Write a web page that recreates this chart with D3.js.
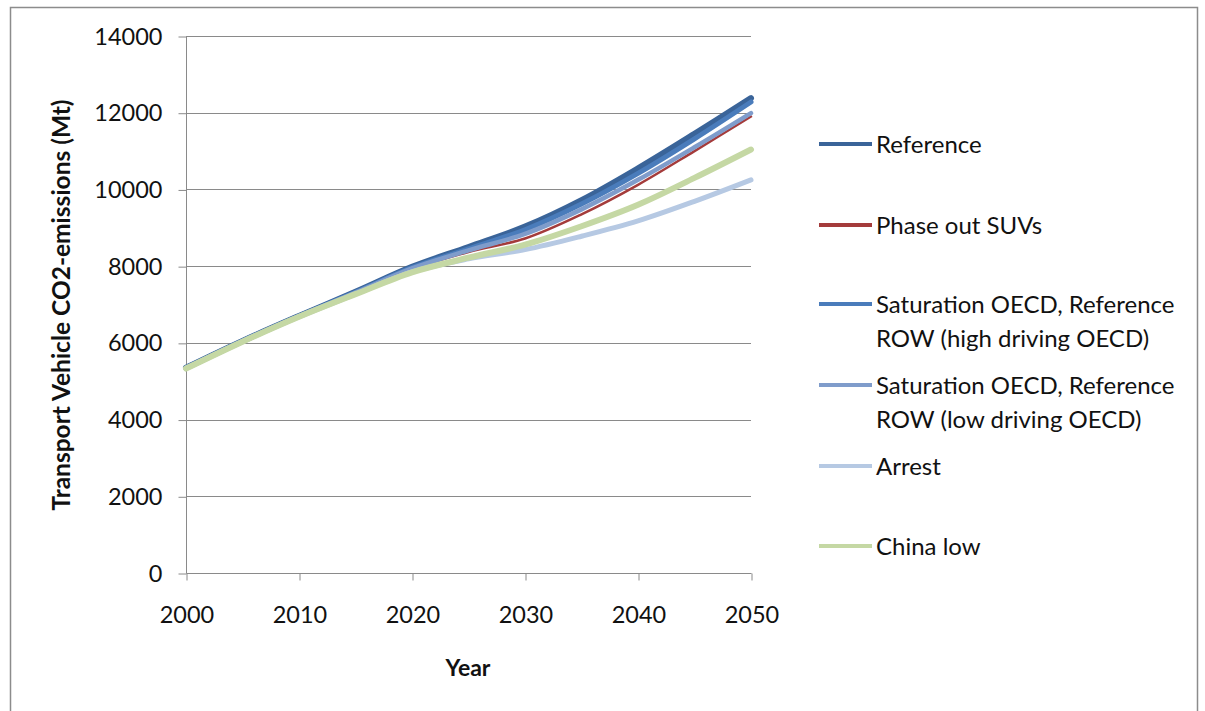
<!DOCTYPE html>
<html><head><meta charset="utf-8">
<script src="https://cdn.jsdelivr.net/npm/d3@7"></script>
<style>
body{margin:0;background:#fff;}
svg{display:block;font-family:Lato,"Open Sans",sans-serif;}
</style></head>
<body><svg id="c" width="1205" height="711"></svg>
<script>
const years = [2000,2005,2010,2015,2020,2025,2030,2035,2040,2045,2050];
const seriesNames = ["Reference","Phase out SUVs","Saturation OECD, Reference ROW (high driving OECD)","Saturation OECD, Reference ROW (low driving OECD)","Arrest","China low"];
const reference   = [5350,6050,6700,7330,7980,8500,9030,9720,10550,11450,12380];
const phaseOutSUV = [5350,6050,6700,7300,7920,8370,8720,9350,10120,11000,11900];
const satHigh     = [5350,6050,6700,7320,7960,8450,8950,9620,10420,11320,12280];
const satLow      = [5350,6050,6700,7310,7940,8410,8840,9480,10250,11100,11990];
const arrest      = [5330,6030,6680,7270,7850,8190,8430,8780,9180,9690,10250];
const chinaLow    = [5330,6030,6680,7270,7840,8220,8560,9040,9600,10300,11040];
const yTicks = [0,2000,4000,6000,8000,10000,12000,14000];
const xTicks = [2000,2010,2020,2030,2040,2050];

const svg = d3.select("#c");
svg.append("path").attr("d","M10.5,711 V7.5 H1197.5 V711").attr("fill","none").attr("stroke","#8c8c8c").attr("stroke-width",1.5);

const x = d3.scaleLinear().domain([2000,2050]).range([186,751]);
const y = d3.scaleLinear().domain([0,14000]).range([573,36]);

svg.append("g").selectAll("line").data(yTicks.filter(d=>d>0)).join("line")
  .attr("x1",186).attr("x2",751).attr("y1",d=>Math.round(y(d))+0.5).attr("y2",d=>Math.round(y(d))+0.5)
  .attr("stroke","#8a8a8a").attr("stroke-width",1);

const ya = svg.append("g").attr("transform","translate(186.5,0.5)")
  .call(d3.axisLeft(y).tickValues(yTicks).tickSize(8).tickPadding(16).tickFormat(d3.format("d")));
const xa = svg.append("g").attr("transform","translate(0.5,573.5)")
  .call(d3.axisBottom(x).tickValues(xTicks).tickSize(7).tickPadding(26).tickFormat(d3.format("d")));
[ya,xa].forEach(a=>{
  a.select(".domain").attr("stroke","#8a8a8a").attr("stroke-width",1);
  a.selectAll(".tick line").attr("stroke","#8a8a8a");
  a.selectAll("text").attr("font-size",23.5).attr("fill","#111").attr("font-family","Lato, 'Open Sans', sans-serif");
});
xa.select(".domain").attr("d","M186,0H751");
ya.select(".domain").attr("d","M0,36V573");

svg.append("text").attr("x",468).attr("y",676).attr("text-anchor","middle")
  .attr("font-size",23).attr("font-weight","bold").attr("fill","#111").text("Year");
svg.append("text").attr("transform","translate(70,305) rotate(-90)").attr("text-anchor","middle")
  .attr("font-size",24.5).attr("font-weight","bold").attr("fill","#111").text("Transport Vehicle CO2-emissions (Mt)");

const series = [
  {name:seriesNames[0], vals:reference,   color:"#3a6499", w:6, lines:["Reference"], ly:144},
  {name:seriesNames[1], vals:phaseOutSUV, color:"#a43b3b", w:2.5, lines:["Phase out SUVs"], ly:225},
  {name:seriesNames[2], vals:satHigh,     color:"#4a7cbb", w:5, lines:["Saturation OECD, Reference","ROW (high driving OECD)"], ly:304},
  {name:seriesNames[3], vals:satLow,      color:"#7f9ccb", w:4.5, lines:["Saturation OECD, Reference","ROW (low driving OECD)"], ly:385},
  {name:seriesNames[4], vals:arrest,      color:"#b6c9e3", w:5, lines:["Arrest"], ly:466},
  {name:seriesNames[5], vals:chinaLow,    color:"#c5d8a4", w:6, lines:["China low"], ly:546}
];
const line = d3.line().x((d,i)=>x(years[i])).y(d=>y(d)).curve(d3.curveCatmullRom.alpha(0.5));
svg.append("g").selectAll("path").data(series).join("path")
  .attr("d",d=>line(d.vals)).attr("fill","none").attr("stroke",d=>d.color)
  .attr("stroke-width",d=>d.w).attr("stroke-linecap","round").attr("stroke-linejoin","round");

const lg = svg.append("g");
series.forEach(s=>{
  lg.append("line").attr("x1",819).attr("x2",872).attr("y1",s.ly).attr("y2",s.ly)
    .attr("stroke",s.color).attr("stroke-width",4);
  s.lines.forEach((t,i)=>{
    lg.append("text").attr("x",876).attr("y",s.ly+8.5+i*34).attr("font-size",24).attr("fill","#111").text(t);
  });
});
</script></body></html>
